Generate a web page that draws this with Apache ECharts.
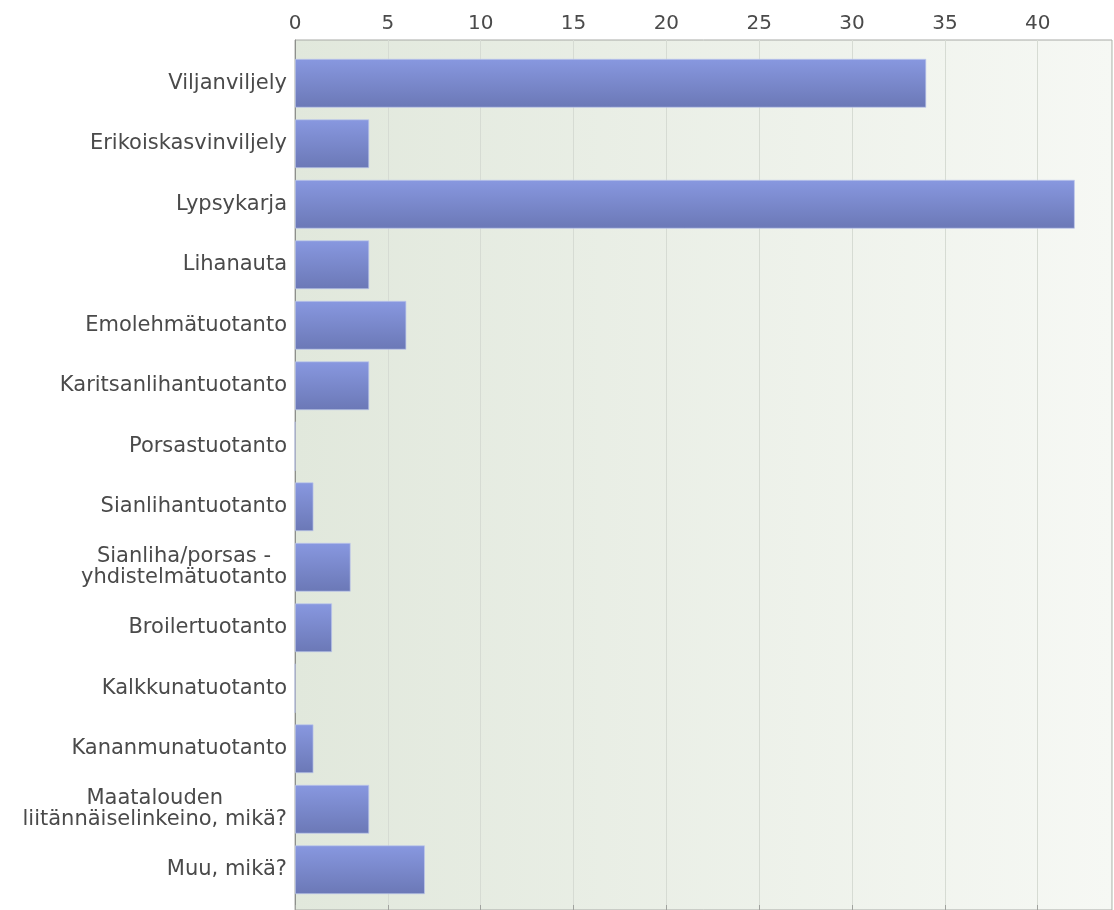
<!DOCTYPE html>
<html>
<head>
<meta charset="utf-8">
<script src="https://cdn.jsdelivr.net/npm/echarts@6/dist/echarts.min.js"></script>
<style>
  html, body { margin: 0; padding: 0; background: #fff; }
  #chart { width: 1114px; height: 910px; }
</style>
</head>
<body>
<div id="chart"></div>
<script>
// answers per production type
const categories = [
  'Viljanviljely',
  'Erikoiskasvinviljely',
  'Lypsykarja',
  'Lihanauta',
  'Emolehmätuotanto',
  'Karitsanlihantuotanto',
  'Porsastuotanto',
  'Sianlihantuotanto',
  'Sianliha/porsas -\nyhdistelmätuotanto',
  'Broilertuotanto',
  'Kalkkunatuotanto',
  'Kananmunatuotanto',
  'Maatalouden\nliitännäiselinkeino, mikä?',
  'Muu, mikä?'
]
const counts = [34, 4, 42, 4, 6, 4, 0, 1, 3, 2, 0, 1, 4, 7]
const axisMax = 44
const tickStep = 5

const chart = echarts.init(document.getElementById('chart'))

const labelFont = '"DejaVu Sans", sans-serif'

chart.setOption({
  animation: false,
  grid: [
    {
      // background + top axis
      left: 295,
      right: 2,
      top: 40,
      height: 880,
      show: true,
      borderColor: '#a8aaa6',
      borderWidth: 1,
      backgroundColor: {
        type: 'linear', x: 0, y: 0, x2: 1, y2: 0,
        colorStops: [
          { offset: 0, color: '#e1e8dc' },
          { offset: 1, color: '#f6f8f4' }
        ]
      }
    },
    {
      // bars
      left: 295,
      right: 2,
      top: 53,
      height: 847
    }
  ],
  xAxis: [
    {
      gridIndex: 0,
      type: 'value',
      position: 'top',
      min: 0,
      max: axisMax,
      interval: tickStep,
      axisLine: { show: true, lineStyle: { color: '#a0a29e' } },
      axisTick: { show: true, length: 5, lineStyle: { color: '#a0a29e' } },
      axisLabel: {
        margin: 6,
        color: '#4a4a4a',
        fontSize: 20,
        fontFamily: labelFont,
        showMaxLabel: false
      },
      splitLine: { show: true, lineStyle: { color: '#d6dbd3' } }
    },
    {
      gridIndex: 1,
      type: 'value',
      min: 0,
      max: axisMax,
      show: false
    }
  ],
  yAxis: [
    {
      gridIndex: 0,
      type: 'value',
      min: 0,
      max: 1,
      axisLine: { show: true, lineStyle: { color: '#8e908c' } },
      axisTick: { show: false },
      axisLabel: { show: false },
      splitLine: { show: false }
    },
    {
      gridIndex: 1,
      type: 'category',
      inverse: true,
      data: categories,
      axisLine: { show: false },
      axisTick: { show: false },
      axisLabel: {
        margin: 8,
        color: '#4a4a4a',
        fontSize: 21,
        fontFamily: labelFont,
        lineHeight: 21,
        formatter: function (v) {
          return v.split('\n').map(function (s) { return '{c|' + s + '}' }).join('\n')
        },
        rich: {
          c: { align: 'center', color: '#4a4a4a', fontSize: 21, fontFamily: labelFont, lineHeight: 21 }
        }
      }
    }
  ],
  series: [
    {
      type: 'bar',
      xAxisIndex: 1,
      yAxisIndex: 1,
      data: counts,
      barWidth: 49,
      itemStyle: {
        color: {
          type: 'linear', x: 0, y: 0, x2: 0, y2: 1,
          colorStops: [
            { offset: 0, color: '#8898e0' },
            { offset: 1, color: '#6b78b6' }
          ]
        },
        borderColor: 'rgba(190,200,235,0.7)',
        borderWidth: 1
      }
    }
  ]
})
</script>
</body>
</html>
